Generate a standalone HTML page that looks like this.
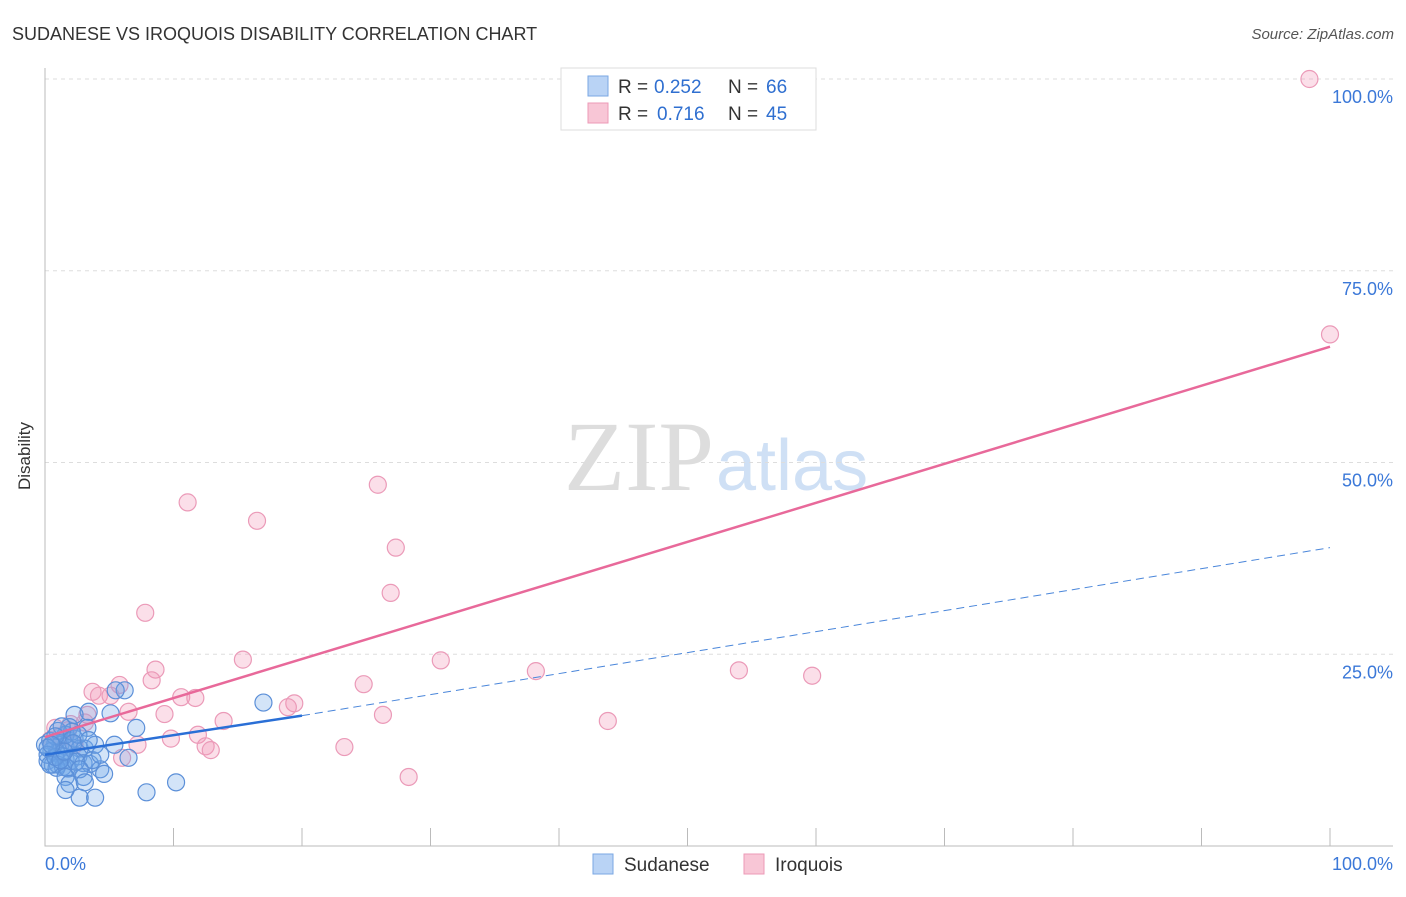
<!DOCTYPE html>
<html><head><meta charset="utf-8"><style>
body{margin:0;background:#fff;font-family:"Liberation Sans",sans-serif}
</style></head><body>
<svg width="1406" height="892" xmlns="http://www.w3.org/2000/svg">
<text x="12" y="40" font-size="18" fill="#333">SUDANESE VS IROQUOIS DISABILITY CORRELATION CHART</text>
<text x="1394" y="39" font-size="15" fill="#555" text-anchor="end" font-style="italic">Source: ZipAtlas.com</text>
<text x="30" y="456" font-size="17" fill="#333" text-anchor="middle" transform="rotate(-90 30 456)">Disability</text>
<text x="714" y="490" font-size="100" fill="#ddd" text-anchor="end" font-family="Liberation Serif">ZIP</text>
<text x="716" y="490" font-size="72" fill="#cfe0f5">atlas</text>
<g id="grid"></g><g id="marks"></g>
<g>
<rect x="561" y="68" width="255" height="62" fill="#fff" stroke="#ddd"/>
<rect x="588" y="76" width="20" height="20" fill="#b9d3f5" stroke="#7aa7e3"/>
<rect x="588" y="103" width="20" height="20" fill="#f8c6d6" stroke="#ec9ab7"/>
<text x="618" y="93" font-size="19" fill="#333">R =</text>
<text x="654" y="93" font-size="19" fill="#2f6fd0">0.252</text>
<text x="728" y="93" font-size="19" fill="#333">N =</text>
<text x="766" y="93" font-size="19" fill="#2f6fd0">66</text>
<text x="618" y="120" font-size="19" fill="#333">R =</text>
<text x="657" y="120" font-size="19" fill="#2f6fd0">0.716</text>
<text x="728" y="120" font-size="19" fill="#333">N =</text>
<text x="766" y="120" font-size="19" fill="#2f6fd0">45</text>
</g>
<g>
<rect x="593" y="854" width="20" height="20" fill="#b9d3f5" stroke="#7aa7e3"/>
<text x="624" y="871" font-size="19" fill="#333">Sudanese</text>
<rect x="744" y="854" width="20" height="20" fill="#f8c6d6" stroke="#ec9ab7"/>
<text x="775" y="871" font-size="19" fill="#333">Iroquois</text>
</g>
</svg>
<script>
const yTicks=[100,75,50,25];
const yTickLabels=["100.0%","75.0%","50.0%","25.0%"];
const blueX=[6.2,5.5,17,3.4,5.1,2.3,7.1,3.3,1.9,0.4,0.8,1.2,1.6,1.9,2.3,2.7,3.1,0.5,0.9,1.3,1.6,2,0.2,0.6,1,1.4,1.8,2.6,3,3.5,4.3,5.4,6.5,4.6,3,0.9,1.7,0,0.2,0.4,0.8,1.2,1.6,2.1,2.6,3.7,2.4,2.7,1.6,1.9,3.1,1.6,2.7,3.9,7.9,10.2,1,1.3,2.2,3.9,0.8,0.2,1.5,4.3,0.5,3.4];
const blueY=[20.3,20.3,18.7,17.5,17.3,17.1,15.4,15.4,15.5,13.7,13.4,13.2,12.9,13.7,14,12.7,12.7,12.4,12.1,11.7,11.3,11.1,11.1,10.6,10.6,10.3,10.1,11.7,10.8,10.7,10,13.2,11.5,9.4,9,10.2,10.2,13.2,11.9,10.6,11.6,11.2,14.5,14.9,14.5,11.2,11,10,9,8.1,8.3,7.3,6.3,6.3,7.0,8.3,15,15.6,13.4,13.2,14.3,12.8,12.3,11.9,13.2,13.8];
const pinkX=[98.4,100,25.9,11.1,16.5,27.3,26.9,7.8,8.6,15.4,30.8,38.2,54,59.7,8.3,24.8,10.6,11.7,3.7,4.2,5.8,5.1,19.4,18.9,9.3,6.5,26.3,13.9,43.8,11.9,9.8,7.2,12.5,12.9,23.3,6,28.3,3.3,0.8,1.2,2,2.3,0.4,3.1,1.8];
const pinkY=[100,66.7,47.1,44.8,42.4,38.9,33.0,30.4,23,24.3,24.2,22.8,22.9,22.2,21.6,21.1,19.4,19.3,20.1,19.6,21,19.6,18.6,18.1,17.2,17.5,17.1,16.3,16.3,14.5,14,13.2,13,12.5,12.9,11.5,9,17.1,15.4,14.3,15.9,13.2,13.8,16.1,15.1];
const pinkFit=[14.2,65.1];
const blueFit=[11.9,17,38.9];
const X=v=>45+v*12.85, Y=v=>846-v*7.67;
const NS="http://www.w3.org/2000/svg";
function mk(t,a,p){const e=document.createElementNS(NS,t);for(const k in a)e.setAttribute(k,a[k]);p.appendChild(e);return e;}
const g=document.getElementById('grid'),m=document.getElementById('marks');
yTicks.forEach((t,i)=>{
 const l=mk('line',{x1:45,x2:1393,y1:Y(t),y2:Y(t),stroke:'#ddd','stroke-dasharray':'4,4'},g);
 
 
 const tx=mk('text',{x:1393,y:Y(t)+24,'font-size':18,fill:'#3b78d8','text-anchor':'end'},g);tx.textContent=yTickLabels[i];
 
 
});
for(let i=0;i<=10;i++){const l=mk('line',{x1:X(i*10),x2:X(i*10),y1:828,y2:846,stroke:'#bbb'},g);
 
 }
const ax=mk('path',{d:'M45,68V846H1393',fill:'none',stroke:'#bbb'},g);


const x0=mk('text',{x:45,y:870,'font-size':18,fill:'#3b78d8'},g);x0.textContent='0.0%';


const x1=mk('text',{x:1393,y:870,'font-size':18,fill:'#3b78d8','text-anchor':'end'},g);x1.textContent='100.0%';


pinkX.forEach((v,i)=>{const c=mk('circle',{cx:X(v),cy:Y(pinkY[i]),r:8.5,fill:'rgba(242,150,182,0.3)',stroke:'#eb9ab8','stroke-width':1.2},m);
 
 });
blueX.forEach((v,i)=>{const c=mk('circle',{cx:X(v),cy:Y(blueY[i]),r:8.5,fill:'rgba(110,165,232,0.3)',stroke:'#5b8fd8','stroke-width':1.2},m);
 
 });
const pl=mk('line',{x1:X(0),y1:Y(pinkFit[0]),x2:X(100),y2:Y(pinkFit[1]),stroke:'#e8699a','stroke-width':2.5},m);


const bl=mk('line',{x1:X(0),y1:Y(blueFit[0]),x2:X(20),y2:Y(blueFit[1]),stroke:'#2a6fd6','stroke-width':2.5},m);


const bd=mk('line',{x1:X(20),y1:Y(blueFit[1]),x2:X(100),y2:Y(blueFit[2]),stroke:'#4a86da','stroke-width':1,'stroke-dasharray':'8,5'},m);


</script>
</body></html>
